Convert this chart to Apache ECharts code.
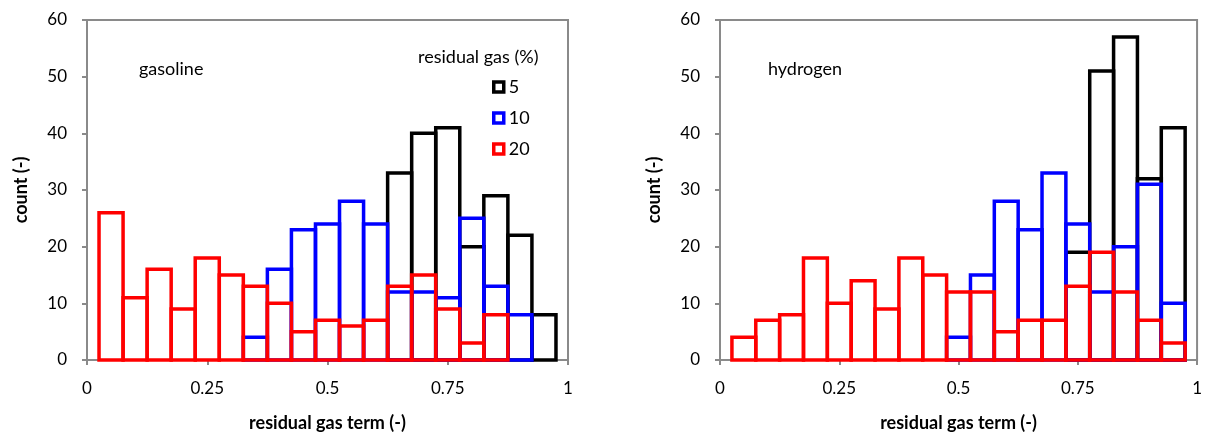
<!DOCTYPE html>
<html>
<head>
<meta charset="utf-8">
<script src="https://cdn.jsdelivr.net/npm/echarts@6/dist/echarts.min.js"></script>
<style>
  html, body { margin: 0; padding: 0; background: #fff; }
  #chart { width: 1205px; height: 437px; }
</style>
</head>
<body>
<div id="chart"></div>
<script>
// Histogram bins of the residual gas term (centre of each bin)
const binCenters = [0.05, 0.10, 0.15, 0.20, 0.25, 0.30, 0.35, 0.40, 0.45, 0.50,
                    0.55, 0.60, 0.65, 0.70, 0.75, 0.80, 0.85, 0.90, 0.95];
const binWidth = 0.05;

// Counts per bin, gasoline
const gasoline5  = [0, 0, 0, 0, 0, 0, 0, 0, 0, 0, 0, 0, 33, 40, 41, 20, 29, 22, 8];
const gasoline10 = [0, 0, 0, 0, 0, 0, 4, 16, 23, 24, 28, 24, 12, 12, 11, 25, 13, 8, 0];
const gasoline20 = [26, 11, 16, 9, 18, 15, 13, 10, 5, 7, 6, 7, 13, 15, 9, 3, 8, 0, 0];

// Counts per bin, hydrogen
const hydrogen5  = [0, 0, 0, 0, 0, 0, 0, 0, 0, 0, 0, 0, 0, 0, 19, 51, 57, 32, 41];
const hydrogen10 = [0, 0, 0, 0, 0, 0, 0, 0, 0, 4, 15, 28, 23, 33, 24, 12, 20, 31, 10];
const hydrogen20 = [4, 7, 8, 18, 10, 14, 9, 18, 15, 12, 12, 5, 7, 7, 13, 19, 12, 7, 3];

const xTicks = [0, 0.25, 0.5, 0.75, 1];
const residualGasLevels = ['5', '10', '20'];
const levelColors = { '5': '#000000', '10': '#0000ff', '20': '#ff0000' };

const FONT = 'Lato, "Open Sans", sans-serif';
const AXIS_GREY = '#8a8a8a';

// Each bin is drawn as an unfilled rectangle spanning one bin width
function outlineBars(color) {
  return function (params, api) {
    const x = api.value(0);
    const y = api.value(1);
    if (!y) return null;
    const topLeft = api.coord([x - binWidth / 2, y]);
    const bottomRight = api.coord([x + binWidth / 2, 0]);
    return {
      type: 'rect',
      shape: {
        x: topLeft[0],
        y: topLeft[1],
        width: bottomRight[0] - topLeft[0],
        height: bottomRight[1] - topLeft[1]
      },
      style: { fill: 'none', stroke: color, lineWidth: 3.5 }
    };
  };
}

function histSeries(level, counts, axisIndex) {
  return {
    name: level,
    type: 'custom',
    xAxisIndex: axisIndex,
    yAxisIndex: axisIndex,
    renderItem: outlineBars(levelColors[level]),
    itemStyle: { color: levelColors[level] },
    encode: { x: 0, y: 1 },
    clip: false,
    data: binCenters.map((c, i) => [c, counts[i]])
  };
}

function xAxisFor(gridIndex) {
  return {
    type: 'value', gridIndex, min: 0, max: 1, interval: 0.25,
    name: 'residual gas term (-)', nameLocation: 'middle', nameGap: 54,
    nameTextStyle: { fontFamily: FONT, fontSize: 18, fontWeight: 'bold', color: '#000' },
    axisLine: { show: true, lineStyle: { color: AXIS_GREY, width: 2 } },
    axisTick: { show: true, inside: false, length: 5, lineStyle: { color: AXIS_GREY, width: 2 } },
    axisLabel: {
      margin: 20, fontFamily: FONT, fontSize: 17, color: '#000',
      formatter: v => (xTicks.includes(v) ? String(v) : '')
    },
    splitLine: { show: false }
  };
}

function yAxisFor(gridIndex) {
  return {
    type: 'value', gridIndex, min: 0, max: 60, interval: 10,
    name: 'count (-)', nameLocation: 'middle', nameGap: 57, nameRotate: 90,
    nameTextStyle: { fontFamily: FONT, fontSize: 18, fontWeight: 'bold', color: '#000' },
    axisLine: { show: true, lineStyle: { color: AXIS_GREY, width: 2 } },
    axisTick: { show: true, inside: false, length: 5, lineStyle: { color: AXIS_GREY, width: 2 } },
    axisLabel: { margin: 20, fontFamily: FONT, fontSize: 17, color: '#000' },
    splitLine: { show: false }
  };
}

const chart = echarts.init(document.getElementById('chart'), null, { renderer: 'canvas' });

chart.setOption({
  animation: false,
  backgroundColor: '#fff',
  grid: [
    { left: 87, top: 20, width: 481, height: 348, show: true, borderColor: AXIS_GREY, borderWidth: 2, backgroundColor: 'transparent' },
    { left: 720, top: 20, width: 480, height: 348, show: true, borderColor: AXIS_GREY, borderWidth: 2, backgroundColor: 'transparent' }
  ],
  xAxis: [xAxisFor(0), xAxisFor(1)],
  yAxis: [yAxisFor(0), yAxisFor(1)],
  legend: {
    orient: 'vertical',
    left: 492, top: 78,
    padding: 0,
    itemWidth: 10, itemHeight: 10, itemGap: 13,
    selectedMode: false,
    textStyle: { fontFamily: FONT, fontSize: 18, color: '#000', lineHeight: 18 },
    data: residualGasLevels.map(l => ({
      name: l,
      icon: 'rect',
      itemStyle: { color: '#fff', borderColor: levelColors[l], borderWidth: 3.5 }
    }))
  },
  graphic: [
    { type: 'text', left: 139, top: 60, style: { text: 'gasoline', font: '18px ' + FONT, fill: '#000' } },
    { type: 'text', left: 768, top: 60, style: { text: 'hydrogen', font: '18px ' + FONT, fill: '#000' } },
    { type: 'text', left: 418, top: 48, style: { text: 'residual gas (%)', font: '18px ' + FONT, fill: '#000' } }
  ],
  series: [
    histSeries('5', gasoline5, 0),
    histSeries('10', gasoline10, 0),
    histSeries('20', gasoline20, 0),
    histSeries('5', hydrogen5, 1),
    histSeries('10', hydrogen10, 1),
    histSeries('20', hydrogen20, 1)
  ]
});
</script>
</body>
</html>
